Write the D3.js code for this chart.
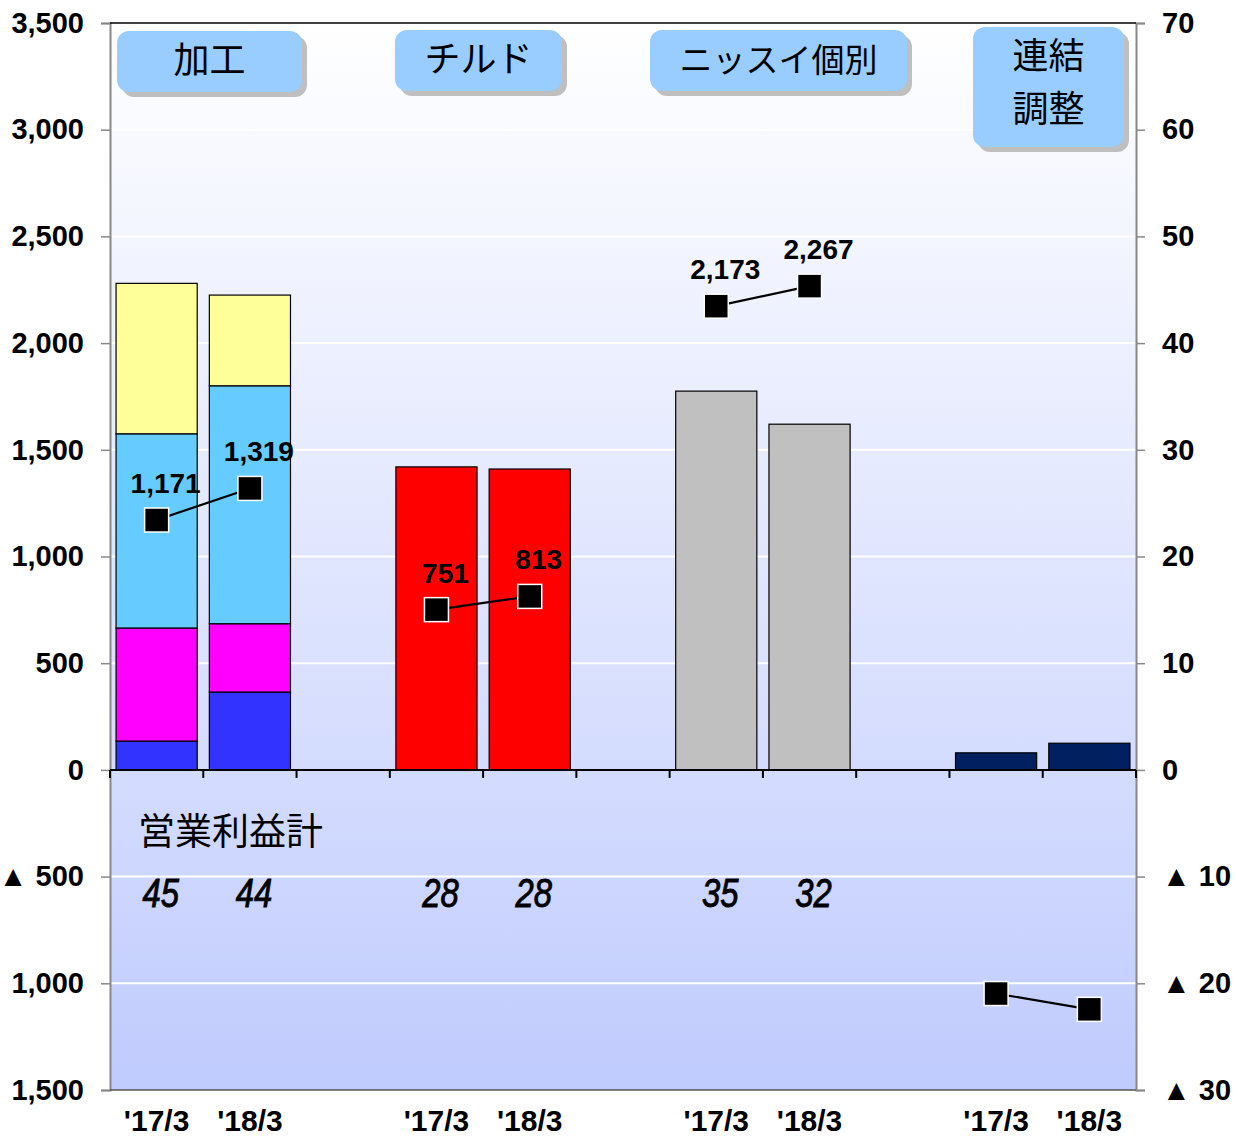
<!DOCTYPE html>
<html>
<head>
<meta charset="utf-8">
<script src="https://cdn.jsdelivr.net/npm/d3@7"></script>
<style>
  body { margin: 0; background: #fff; }
  svg { display: block; }
  .num { font-family: "Liberation Sans", Arial, sans-serif; font-weight: bold; }
  .jp { font-family: "Noto Sans CJK JP", sans-serif; }
</style>
</head>
<body>
<div id="chart"></div>
<script>
// periods on the category axis (blank slots separate the segments)
var periods = ["'17/3", "'18/3", "", "'17/3", "'18/3", "", "'17/3", "'18/3", "", "'17/3", "'18/3"];
var segmentNames = ["加工", "チルド", "ニッスイ個別", "連結調整"];

// operating profit (right axis, 億円)
var kakoLayers = ["blue", "magenta", "cyan", "yellow"];
var kakoBlue = [2.7, 7.3];
var kakoMagenta = [10.6, 6.4];
var kakoCyan = [18.2, 22.3];
var kakoYellow = [14.1, 8.5];
var chilledProfit = [28.4, 28.2];
var nissuiProfit = [35.5, 32.4];
var adjustProfit = [1.6, 2.5];
var profitTotals = ["45", "44", "28", "28", "35", "32"];

// sales (left axis, 億円)
var kakoSales = [1171, 1319];
var chilledSales = [751, 813];
var nissuiSales = [2173, 2267];
var adjustSales = [-1048, -1122];

var leftTicks = [-1500, -1000, -500, 0, 500, 1000, 1500, 2000, 2500, 3000, 3500];
var rightTicks = [-30, -20, -10, 0, 10, 20, 30, 40, 50, 60, 70];

var W = 1238, H = 1137;
var plot = {left: 110, right: 1136, top: 23, bottom: 1090};

var svg = d3.select("#chart").append("svg")
    .attr("width", W).attr("height", H);

var x = d3.scaleBand()
    .domain(d3.range(periods.length))
    .range([plot.left, plot.right])
    .paddingInner(0.13)
    .paddingOuter(0.065);

var yL = d3.scaleLinear().domain([-1500, 3500]).range([plot.bottom, plot.top]);
var yR = d3.scaleLinear().domain([-30, 70]).range([plot.bottom, plot.top]);

// background gradient
var defs = svg.append("defs");
var grad = defs.append("linearGradient")
    .attr("id", "bg").attr("gradientUnits", "userSpaceOnUse")
    .attr("x1", 0).attr("x2", 0).attr("y1", plot.top).attr("y2", plot.bottom);
grad.append("stop").attr("offset", 0).attr("stop-color", "#ffffff");
grad.append("stop").attr("offset", 0.7).attr("stop-color", "#d4dcfe");
grad.append("stop").attr("offset", 1).attr("stop-color", "#bfcbfd");

svg.append("rect")
    .attr("x", plot.left).attr("y", plot.top)
    .attr("width", plot.right - plot.left).attr("height", plot.bottom - plot.top)
    .attr("fill", "url(#bg)");

// gridlines
svg.append("g").selectAll("line")
    .data(leftTicks.filter(d => d !== 0 && d !== 3500 && d !== -1500))
    .enter().append("line")
    .attr("x1", plot.left).attr("x2", plot.right)
    .attr("y1", d => yL(d)).attr("y2", d => yL(d))
    .attr("stroke", "#ffffff").attr("stroke-width", 2);

// bars
var kakoRows = [0, 1].map(i => ({
    i: i, blue: kakoBlue[i], magenta: kakoMagenta[i], cyan: kakoCyan[i], yellow: kakoYellow[i]
}));
var layerColor = {blue: "#3333ff", magenta: "#ff00ff", cyan: "#66ccff", yellow: "#ffff99"};
var stacked = d3.stack().keys(kakoLayers)(kakoRows);

svg.append("g").selectAll("g")
    .data(stacked)
    .enter().append("g")
    .attr("fill", d => layerColor[d.key])
    .selectAll("rect")
    .data(d => d)
    .enter().append("rect")
    .attr("x", d => x(d.data.i))
    .attr("width", x.bandwidth())
    .attr("y", d => yR(d[1]))
    .attr("height", d => yR(d[0]) - yR(d[1]))
    .attr("stroke", "#000").attr("stroke-width", 1.2);

var singleBars = [
    {values: chilledProfit, start: 3, color: "#ff0000"},
    {values: nissuiProfit, start: 6, color: "#c0c0c0"},
    {values: adjustProfit, start: 9, color: "#002060"}
];
singleBars.forEach(function(s) {
    svg.append("g").selectAll("rect")
        .data(s.values)
        .enter().append("rect")
        .attr("x", (d, k) => x(s.start + k))
        .attr("width", x.bandwidth())
        .attr("y", d => yR(d))
        .attr("height", d => yR(0) - yR(d))
        .attr("fill", s.color)
        .attr("stroke", "#000").attr("stroke-width", 1.2);
});

// axes
var fmtL = d => d < 0 ? "▲ " + d3.format(",")(-d) : d3.format(",")(d);
var fmtR = d => d < 0 ? "▲ " + (-d) : String(d);

var axL = svg.append("g")
    .attr("transform", `translate(${plot.left},0)`)
    .call(d3.axisLeft(yL).tickValues(leftTicks).tickFormat(fmtL).tickSize(9).tickPadding(17));
var axR = svg.append("g")
    .attr("transform", `translate(${plot.right},0)`)
    .call(d3.axisRight(yR).tickValues(rightTicks).tickFormat(fmtR).tickSize(9).tickPadding(17));
[axL, axR].forEach(function(a) {
    a.select(".domain").attr("stroke", "#888").attr("stroke-width", 2);
    a.selectAll(".tick line").attr("stroke", "#888").attr("stroke-width", 1.5);
    a.selectAll("text").attr("class", "num").attr("font-size", 29).attr("fill", "#000");
});

// top and bottom frame lines
svg.append("line").attr("x1", plot.left).attr("x2", plot.right)
    .attr("y1", plot.top).attr("y2", plot.top).attr("stroke", "#000").attr("stroke-width", 1.5);
svg.append("line").attr("x1", plot.left).attr("x2", plot.right)
    .attr("y1", plot.bottom).attr("y2", plot.bottom).attr("stroke", "#555").attr("stroke-width", 1.5);

// zero line with category separators
var zero = yL(0);
svg.append("line").attr("x1", plot.left).attr("x2", plot.right)
    .attr("y1", zero).attr("y2", zero).attr("stroke", "#000").attr("stroke-width", 2);
var sep = d3.range(periods.length + 1).map(i => plot.left + i * x.step());
svg.append("g").selectAll("line")
    .data(sep)
    .enter().append("line")
    .attr("x1", d => d).attr("x2", d => d)
    .attr("y1", zero).attr("y2", zero + 8)
    .attr("stroke", "#000").attr("stroke-width", 2);

// period labels
svg.append("g").selectAll("text")
    .data(periods.map((p, i) => ({p: p, i: i})).filter(d => d.p))
    .enter().append("text")
    .attr("class", "num")
    .attr("x", d => x(d.i) + x.bandwidth() / 2)
    .attr("y", 1131)
    .attr("text-anchor", "middle")
    .attr("font-size", 30)
    .text(d => d.p);

// sales lines with markers
var salesSeries = [
    {values: kakoSales, start: 0, label: true},
    {values: chilledSales, start: 3, label: true},
    {values: nissuiSales, start: 6, label: true},
    {values: adjustSales, start: 9, label: false}
];
var cx = i => x(i) + x.bandwidth() / 2;
salesSeries.forEach(function(s) {
    var pts = s.values.map((v, k) => ({v: v, i: s.start + k}));
    svg.append("path")
        .datum(pts)
        .attr("d", d3.line().x(d => cx(d.i)).y(d => yL(d.v)))
        .attr("fill", "none").attr("stroke", "#000").attr("stroke-width", 2.2);
    svg.append("g").selectAll("rect")
        .data(pts)
        .enter().append("rect")
        .attr("x", d => cx(d.i) - 12).attr("y", d => yL(d.v) - 12)
        .attr("width", 24).attr("height", 24)
        .attr("fill", "#000").attr("stroke", "#fff").attr("stroke-width", 1.5);
    if (s.label) {
        svg.append("g").selectAll("text")
            .data(pts)
            .enter().append("text")
            .attr("class", "num")
            .attr("x", d => cx(d.i) + 9)
            .attr("y", d => yL(d.v) - 27)
            .attr("text-anchor", "middle")
            .attr("font-size", 28)
            .text(d => d3.format(",")(d.v));
    }
});

// operating profit totals (narrowed italic)
var totalSlots = [0, 1, 3, 4, 6, 7];
svg.append("g").selectAll("text")
    .data(profitTotals)
    .enter().append("text")
    .attr("transform", (d, k) => `translate(${cx(totalSlots[k]) + 4},907) scale(0.8,1)`)
    .attr("text-anchor", "middle")
    .attr("font-family", "'Liberation Sans', Arial, sans-serif")
    .attr("font-style", "italic")
    .attr("font-size", 41)
    .attr("stroke", "#000").attr("stroke-width", 0.9)
    .text(d => d);

svg.append("text")
    .attr("class", "jp")
    .attr("x", 138).attr("y", 845)
    .attr("font-size", 37)
    .text("営業利益計");

// segment name boxes
var boxes = [
    {x: 117, y: 31, w: 185, h: 61, lines: [segmentNames[0]]},
    {x: 395, y: 30, w: 167, h: 61, lines: [segmentNames[1]]},
    {x: 650, y: 30, w: 257, h: 61, lines: [segmentNames[2]]},
    {x: 973, y: 27, w: 151, h: 120, lines: ["連結", "調整"]}
];
var bg = svg.append("g").selectAll("g").data(boxes).enter().append("g");
bg.append("rect")
    .attr("x", d => d.x + 5).attr("y", d => d.y + 5)
    .attr("width", d => d.w).attr("height", d => d.h)
    .attr("rx", 12).attr("fill", "#bfbfbf");
bg.append("rect")
    .attr("x", d => d.x).attr("y", d => d.y)
    .attr("width", d => d.w).attr("height", d => d.h)
    .attr("rx", 12).attr("fill", "#99ccff");
bg.each(function(d) {
    var g = d3.select(this);
    d.lines.forEach(function(t, j) {
        g.append("text")
            .attr("class", "jp")
            .attr("x", d.x + d.w / 2)
            .attr("y", d.y + 42 + j * 53)
            .attr("text-anchor", "middle")
            .attr("font-size", d.lines.length > 1 ? 36 : (t.length > 3 ? 33 : 36))
            .text(t);
    });
});
</script>
</body>
</html>
